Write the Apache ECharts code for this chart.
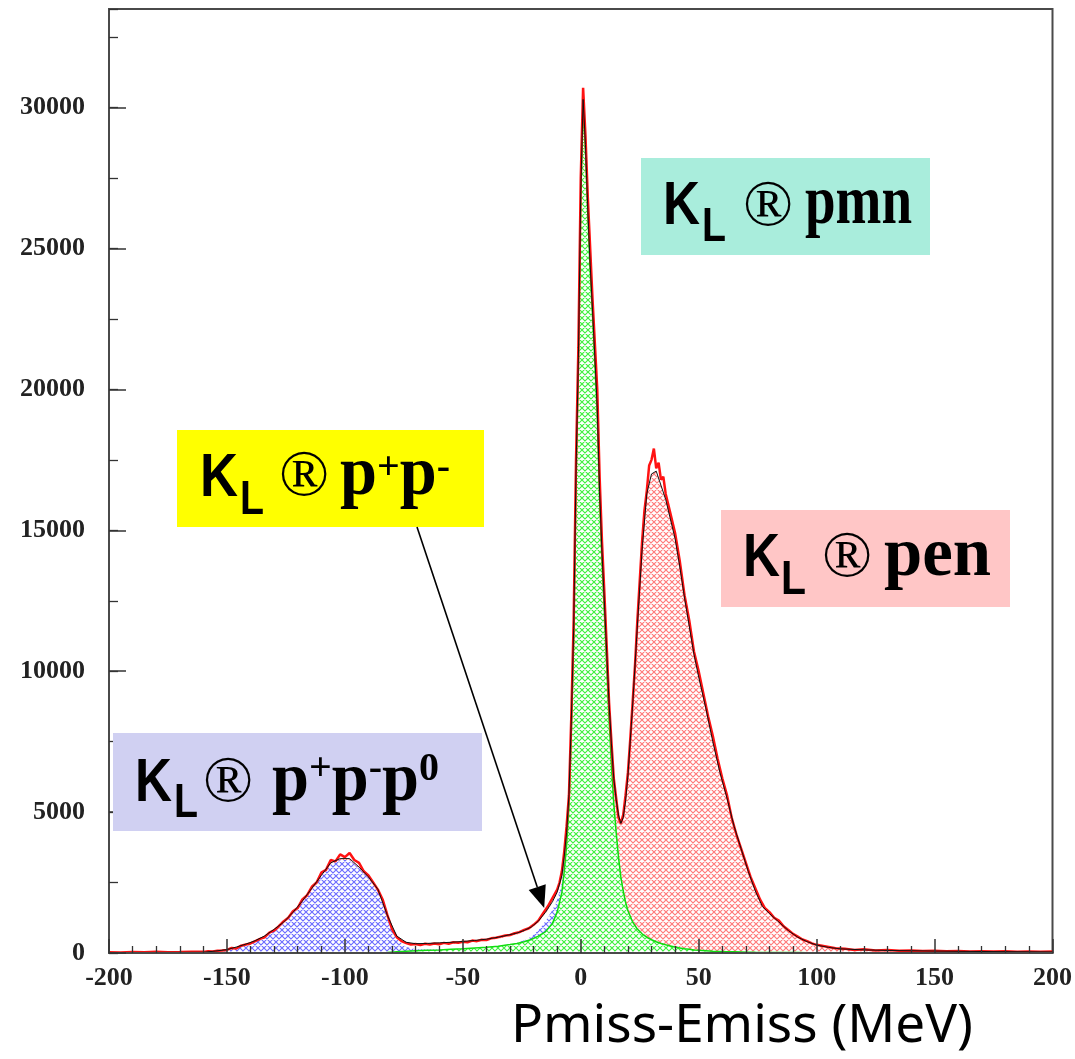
<!DOCTYPE html>
<html>
<head>
<meta charset="utf-8">
<script src="https://cdn.jsdelivr.net/npm/echarts@6/dist/echarts.min.js"></script>
<style>
  html, body { margin: 0; padding: 0; background: #fff; }
  #chart { width: 1075px; height: 1059px; }
</style>
</head>
<body>
<div id="chart"></div>
<script>
// Pmiss - Emiss spectrum of K_L decays: simulated channels (cumulative), their sum and the measured histogram.

// Bin centres (MeV) shared by the simulated channels
const energy = [
  -200, -190, -180, -170, -160,
  -155, -150,
  -146, -142, -138, -134, -130, -126, -122, -118, -114, -110, -106, -102, -98, -94, -90, -86, -82, -78, -74,
  -70, -65, -60, -55, -50, -45, -40, -35, -30,
  -27, -24, -21, -18, -15, -12,
  -10, -8,
  -7, -6, -5, -4, -3, -2, -1, 0, 1, 2, 3, 4, 5, 6, 7, 8, 9, 10, 11, 12, 13, 14, 15, 16, 17, 18, 19, 20,
  22, 24, 26, 28, 30, 32, 34, 36, 38, 40, 42, 44, 46, 48, 50,
  53, 56, 59, 62, 65, 68, 71, 74, 77, 80,
  84, 88, 92, 96, 100,
  105, 110,
  120, 130, 140, 150, 160, 170, 180, 190, 200
];

// K_L -> pi mu nu
const kmu3 = [
  0, 0, 0, 0, 0,
  0, 0,
  0, 0, 0, 0, 0, 0, 0, 0, 0, 0, 0, 0, 0, 0, 0, 10, 20, 40, 60,
  80, 95, 110, 130, 150, 175, 200, 240, 300,
  340, 400, 480, 600, 750, 1050,
  1450, 2150,
  2900, 3800, 5200, 7900, 11200, 16900, 20900, 26800, 30100, 28500, 26200, 24200, 22600, 20900, 19100, 16100, 13900, 12100, 10200, 8300, 6700, 5300, 4300, 3400, 2700, 2200, 1800, 1500,
  1100, 850, 680, 560, 470, 400, 340, 290, 250, 210, 180, 150, 130, 110, 95,
  80, 65, 55, 45, 40, 35, 30, 25, 22, 20,
  18, 16, 14, 12, 10,
  10, 8,
  6, 5, 5, 4, 4, 3, 3, 3, 3
];

// K_L -> pi+ pi- pi0
const k3pi = [
  0, 0, 0, 0, 0,
  40, 90,
  180, 280, 400, 570, 800, 1050, 1400, 1800, 2250, 2700, 3150, 3300, 3300, 3000, 2650, 2200, 1250, 450, 150,
  50, 25, 10, 0, 0, 0, 0, 0, 0,
  0, 0, 0, 0, 0, 0,
  0, 0,
  0, 0, 0, 0, 0, 0, 0, 0, 0, 0, 0, 0, 0, 0, 0, 0, 0, 0, 0, 0, 0, 0, 0, 0, 0, 0, 0, 0,
  0, 0, 0, 0, 0, 0, 0, 0, 0, 0, 0, 0, 0, 0, 0,
  0, 0, 0, 0, 0, 0, 0, 0, 0, 0,
  0, 0, 0, 0, 0,
  0, 0,
  0, 0, 0, 0, 0, 0, 0, 0, 0
];

// K_L -> pi+ pi-
const k2pi = [
  0, 0, 0, 0, 0,
  0, 0,
  0, 0, 0, 0, 0, 0, 0, 0, 0, 0, 0, 0, 0, 0, 0, 0, 0, 0, 0,
  0, 0, 0, 0, 0, 0, 0, 0, 0,
  20, 50, 100, 200, 380, 480,
  440, 350,
  300, 250, 200, 160, 120, 80, 50, 20, 0, 0, 0, 0, 0, 0, 0, 0, 0, 0, 0, 0, 0, 0, 0, 0, 0, 0, 0, 0,
  0, 0, 0, 0, 0, 0, 0, 0, 0, 0, 0, 0, 0, 0, 0,
  0, 0, 0, 0, 0, 0, 0, 0, 0, 0,
  0, 0, 0, 0, 0,
  0, 0,
  0, 0, 0, 0, 0, 0, 0, 0, 0
];

// remaining simulated background (drawn without hatching)
const other = [
  0, 0, 0, 0, 0,
  0, 0,
  0, 0, 0, 0, 0, 0, 0, 0, 0, 0, 0, 0, 0, 0, 0, 0, 20, 60, 120,
  150, 170, 190, 200, 210, 220, 240, 270, 300,
  300, 300, 290, 280, 260, 240,
  220, 200,
  190, 180, 170, 160, 150, 140, 130, 120, 110, 100, 90, 80, 70, 60, 50, 40, 30, 20, 10, 0, 0, 0, 0, 0, 0, 0, 0, 0,
  0, 0, 0, 0, 0, 0, 0, 0, 0, 0, 0, 0, 0, 0, 0,
  0, 0, 0, 0, 0, 0, 0, 0, 0, 0,
  0, 0, 0, 0, 0,
  0, 0,
  0, 0, 0, 0, 0, 0, 0, 0, 0
];

// K_L -> pi e nu
const ke3 = [
  15, 18, 20, 22, 25,
  28, 30,
  32, 34, 36, 38, 40, 42, 44, 46, 48, 50, 50, 50, 50, 50, 50, 50, 50, 50, 50,
  50, 50, 50, 50, 50, 50, 50, 50, 50,
  50, 50, 50, 50, 50, 50,
  50, 50,
  50, 50, 50, 50, 50, 50, 60, 70, 80, 90, 110, 130, 150, 170, 200, 240, 300, 380, 470, 580, 720, 900, 1150, 1500, 1900, 2600, 3600, 4800,
  7700, 10750, 13620, 15740, 16530, 16700, 16260, 15810, 15150, 14490, 13520, 12450, 11470, 10490, 9700,
  8620, 7430, 6350, 5450, 4460, 3660, 2870, 2175, 1630, 1380,
  1080, 780, 545, 390, 270,
  190, 140,
  105, 85, 75, 65, 55, 50, 45, 40, 35
];

// Measured histogram: [Pmiss-Emiss (MeV), entries]
const measured = [
  [-200, 30], [-195, 20], [-190, 35], [-185, 25], [-180, 40], [-175, 30], [-170, 35], [-165, 45], [-160, 40],
  [-158, 60], [-156, 50], [-154, 80], [-152, 90], [-150, 110], [-148, 180], [-146, 160], [-144, 260], [-142, 300],
  [-140, 340], [-138, 420], [-136, 500], [-134, 560], [-132, 720], [-130, 800], [-128, 950], [-126, 1120],
  [-124, 1250], [-122, 1480], [-120, 1600], [-118, 1900], [-116, 2050], [-114, 2350], [-112, 2500], [-110, 2850],
  [-108, 2950], [-106, 3300], [-104, 3250], [-102, 3500], [-100, 3400], [-98, 3550], [-96, 3300], [-94, 3200],
  [-92, 2900], [-90, 2750], [-88, 2500], [-86, 2250], [-84, 1900], [-82, 1350], [-80, 850], [-78, 560],
  [-76, 420], [-74, 350], [-72, 300], [-70, 320], [-68, 280], [-66, 330], [-64, 300], [-62, 340], [-60, 310],
  [-58, 360], [-56, 330], [-54, 380], [-52, 360], [-50, 400], [-48, 380], [-46, 440], [-44, 420], [-42, 470],
  [-40, 460], [-38, 520], [-36, 540], [-34, 580], [-32, 620], [-30, 640], [-28, 700], [-26, 740], [-24, 820],
  [-22, 880], [-20, 1000], [-18, 1150], [-16, 1400], [-14, 1650], [-12, 1950], [-11, 2100], [-10, 2250],
  [-9, 2500], [-8, 2900], [-7, 3600], [-6, 4500], [-5, 5600], [-4, 8400], [-3, 11800], [-2, 17500], [-1, 21500],
  [0, 27500], [1, 30700], [2, 29000], [3, 26800], [4, 25000], [5, 23200], [6, 21600], [7, 20000], [8, 16900],
  [9, 14600], [10, 12800], [11, 10900], [12, 8900], [13, 7500], [14, 6200], [15, 5500], [16, 4800], [17, 4600],
  [18, 4900], [19, 5600], [20, 6400], [21, 7600], [22, 8900], [23, 10200], [24, 11800], [25, 13200], [26, 14600],
  [27, 15700], [28, 16400], [29, 17300], [30, 17500], [31, 17900], [32, 17200], [33, 17400], [34, 16800],
  [35, 16900], [36, 16300], [38, 15600], [40, 14900], [42, 13900], [44, 12700], [46, 11800], [48, 10700],
  [50, 10000], [52, 9200], [54, 8400], [56, 7700], [58, 6900], [60, 6200], [62, 5600], [64, 4800], [66, 4200],
  [68, 3700], [70, 3200], [72, 2700], [74, 2300], [76, 1900], [78, 1600], [80, 1450], [82, 1250], [84, 1150],
  [86, 950], [88, 820], [90, 680], [92, 580], [94, 480], [96, 420], [98, 340], [100, 290], [104, 230],
  [108, 170], [112, 150], [116, 110], [120, 130], [125, 90], [130, 110], [135, 80], [140, 90], [145, 70],
  [150, 80], [155, 60], [160, 70], [165, 55], [170, 65], [175, 50], [180, 60], [185, 45], [190, 55],
  [195, 40], [200, 50]
];

// Arrow target: the pi+ pi- contribution
const k2piMarker = [-15.5, 1600];

[kmu3, k3pi, k2pi, other, ke3].forEach(function (arr, i) {
  if (arr.length !== energy.length) throw new Error('channel ' + i + ' has ' + arr.length + ' bins, expected ' + energy.length);
});

const SERIF = '"Liberation Serif", "Times New Roman", serif';
const SANS = '"Liberation Sans", Arial, sans-serif';

// opaque cross-hatch fill pattern (white ground, coloured lattice)
function hatch(color) {
  const n = 6;
  const c = document.createElement('canvas');
  c.width = n; c.height = n;
  const g = c.getContext('2d');
  g.fillStyle = '#ffffff';
  g.fillRect(0, 0, n, n);
  g.strokeStyle = color;
  g.lineWidth = 1.15;
  g.beginPath();
  [-n, 0, n].forEach(function (k) {
    g.moveTo(k - 1, -1); g.lineTo(k + n + 1, n + 1);
    g.moveTo(k + n + 1, -1); g.lineTo(k - 1, n + 1);
  });
  g.stroke();
  return { image: c, repeat: 'repeat' };
}

// cumulative levels of the channel stack, bottom to top
function cumulate(parts) {
  return energy.map(function (x, i) {
    let s = 0;
    parts.forEach(function (p) { s += p[i]; });
    return [x, s];
  });
}
const levelMu = cumulate([kmu3]);
const level2pi = cumulate([kmu3, k3pi, k2pi]);
const levelOther = cumulate([kmu3, k3pi, k2pi, other]);
const levelTotal = cumulate([kmu3, k3pi, k2pi, other, ke3]);

function layer(name, data, fill, line) {
  return {
    type: 'line', name: name, data: data, symbol: 'none', showSymbol: false,
    areaStyle: { color: fill, opacity: 1 },
    lineStyle: line || { opacity: 0 },
    emphasis: { disabled: true }, z: 2
  };
}

const chart = echarts.init(document.getElementById('chart'));

const tickStyle = { color: '#333', width: 1.5 };

chart.setOption({
  animation: false,
  backgroundColor: '#fff',
  grid: {
    left: 109, right: 20, top: 9, bottom: 106,
    show: true, borderColor: '#4a4a4a', borderWidth: 2, backgroundColor: 'transparent'
  },
  xAxis: {
    type: 'value', min: -200, max: 200, interval: 50, z: 10,
    axisLine: { onZero: false, lineStyle: { color: '#4a4a4a', width: 2 } },
    axisTick: { inside: true, length: 14, lineStyle: tickStyle },
    minorTick: { show: true, splitNumber: 5, length: 7, lineStyle: { color: '#333', width: 1.3 } },
    splitLine: { show: false },
    axisLabel: {
      margin: 12, fontFamily: SERIF, fontWeight: 'bold', fontSize: 26, color: '#222'
    }
  },
  yAxis: [
    {
      type: 'value', min: 0, max: 33500, interval: 5000, position: 'left', z: 10,
      axisLine: { onZero: false, lineStyle: { color: '#4a4a4a', width: 2 } },
      axisTick: { inside: true, length: 17, lineStyle: tickStyle },
      splitLine: { show: false },
      axisLabel: {
        margin: 24, fontFamily: SERIF, fontWeight: 'bold', fontSize: 26, color: '#222',
        showMaxLabel: false,
        formatter: function (v) { return String(v); }
      }
    },
    {
      // minor ticks every 2500 entries
      type: 'value', min: 0, max: 33500, interval: 2500, position: 'left', z: 10,
      axisLine: { show: false, onZero: false },
      axisTick: { inside: true, length: 9, lineStyle: { color: '#333', width: 1.3 } },
      axisLabel: { show: false },
      splitLine: { show: false }
    }
  ],
  series: [
    layer('pi e nu', levelTotal, hatch('#ff7a7a')),
    layer('other', levelOther, '#ffffff'),
    layer('pi+ pi- pi0 / pi+ pi-', level2pi, hatch('#6c6cff')),
    layer('pi mu nu', levelMu, hatch('#3ef03e'), { color: '#10dd10', width: 1.5 }),
    {
      type: 'line', name: 'data', data: measured, symbol: 'none', showSymbol: false,
      lineStyle: { color: '#ff1212', width: 2.5 }, z: 3
    },
    {
      type: 'line', name: 'sum', data: levelTotal, symbol: 'none', showSymbol: false,
      lineStyle: { color: '#111', width: 1 }, z: 4
    }
  ]
});

// ---- decay-channel labels ----
const mctx = document.createElement('canvas').getContext('2d');
function textWidth(t, font) { mctx.font = font; return mctx.measureText(t).width; }
function fontSize(font) { return parseFloat(font.match(/(\d+(?:\.\d+)?)px/)[1]); }

const fK = 'bold 62px ' + SANS;
const fL = 'bold 48px ' + SANS;
const fR = '66px ' + SERIF;
const fP = 'bold 70px ' + SERIF;
const fS = 'bold 40px ' + SERIF;

// piece: [text, font, left, right, baseline, scaleX]
function labelBox(fill, rect, pieces) {
  const els = [{
    type: 'rect', z: 100,
    shape: { x: rect[0], y: rect[1], width: rect[2] - rect[0], height: rect[3] - rect[1] },
    style: { fill: fill }
  }];
  let cursor = rect[0];
  pieces.forEach(function (p) {
    const text = p[0], font = p[1];
    const w = textWidth(text, font);
    const left = p[2] != null ? p[2] : cursor;
    const sx = p[3] != null ? (p[3] - left) / w : (p[5] || 1);
    els.push({
      type: 'text', z: 101, x: left, y: p[4] - 0.34 * fontSize(font), scaleX: sx,
      style: {
        text: text, font: font, fill: '#000',
        textAlign: 'left', textVerticalAlign: 'middle', verticalAlign: 'middle'
      }
    });
    cursor = left + w * sx;
  });
  return els;
}

const graphics = [].concat(
  labelBox('#a9eddc', [641, 158, 930, 255], [
    ['K', fK, 663, 700, 228], ['L', fL, 702, 726, 244], ['®', fR, 743, null, 230, 1],
    ['pmn', fP, 805, 912, 229]
  ]),
  labelBox('#ffc6c6', [721, 510, 1010, 607], [
    ['K', fK, 743, 780, 580], ['L', fL, 781, 806, 597], ['®', fR, 822, null, 581, 1],
    ['pen', fP, 884, 991, 581]
  ]),
  labelBox('#ffff00', [177, 430, 484, 527], [
    ['K', fK, 200, 238, 500], ['L', fL, 240, 264, 517], ['®', fR, 279, null, 500, 1],
    ['p', fP, 340, null, 500, 0.95], ['+', fS, null, null, 482, 1],
    ['p', fP, null, null, 500, 0.95], ['-', fS, null, null, 482, 1]
  ]),
  labelBox('#d0d0f2', [113, 733, 482, 831], [
    ['K', fK, 135, 172, 805], ['L', fL, 174, 198, 820], ['®', fR, 203, null, 806, 1],
    ['p', fP, 272, null, 806, 0.95], ['+', fS, null, null, 783, 1],
    ['p', fP, null, null, 806, 0.95], ['-', fS, null, null, 783, 1],
    ['p', fP, null, null, 806, 0.95], ['0', fS, null, null, 783, 1]
  ])
);

// arrow from the pi+ pi- label to its contribution
const tip = chart.convertToPixel({ xAxisIndex: 0, yAxisIndex: 0 }, k2piMarker);
const tail = [417, 527];
const dx = tip[0] - tail[0], dy = tip[1] - tail[1];
const len = Math.sqrt(dx * dx + dy * dy);
const ux = dx / len, uy = dy / len;
const headLen = 22, headHalf = 9;
const bx = tip[0] - ux * headLen, by = tip[1] - uy * headLen;
graphics.push({
  type: 'line', z: 102,
  shape: { x1: tail[0], y1: tail[1], x2: bx, y2: by },
  style: { stroke: '#000', lineWidth: 1.6 }
});
graphics.push({
  type: 'polygon', z: 102,
  shape: { points: [tip, [bx - uy * headHalf, by + ux * headHalf], [bx + uy * headHalf, by - ux * headHalf]] },
  style: { fill: '#000' }
});

// axis title
graphics.push({
  type: 'text', z: 101, x: 511, y: 1047 - 0.388 * 53,
  style: {
    text: 'Pmiss-Emiss (MeV)', font: '53px "Noto Sans", sans-serif', fill: '#000',
    textAlign: 'left', textVerticalAlign: 'middle', verticalAlign: 'middle'
  }
});

chart.setOption({ graphic: graphics });
</script>
</body>
</html>
